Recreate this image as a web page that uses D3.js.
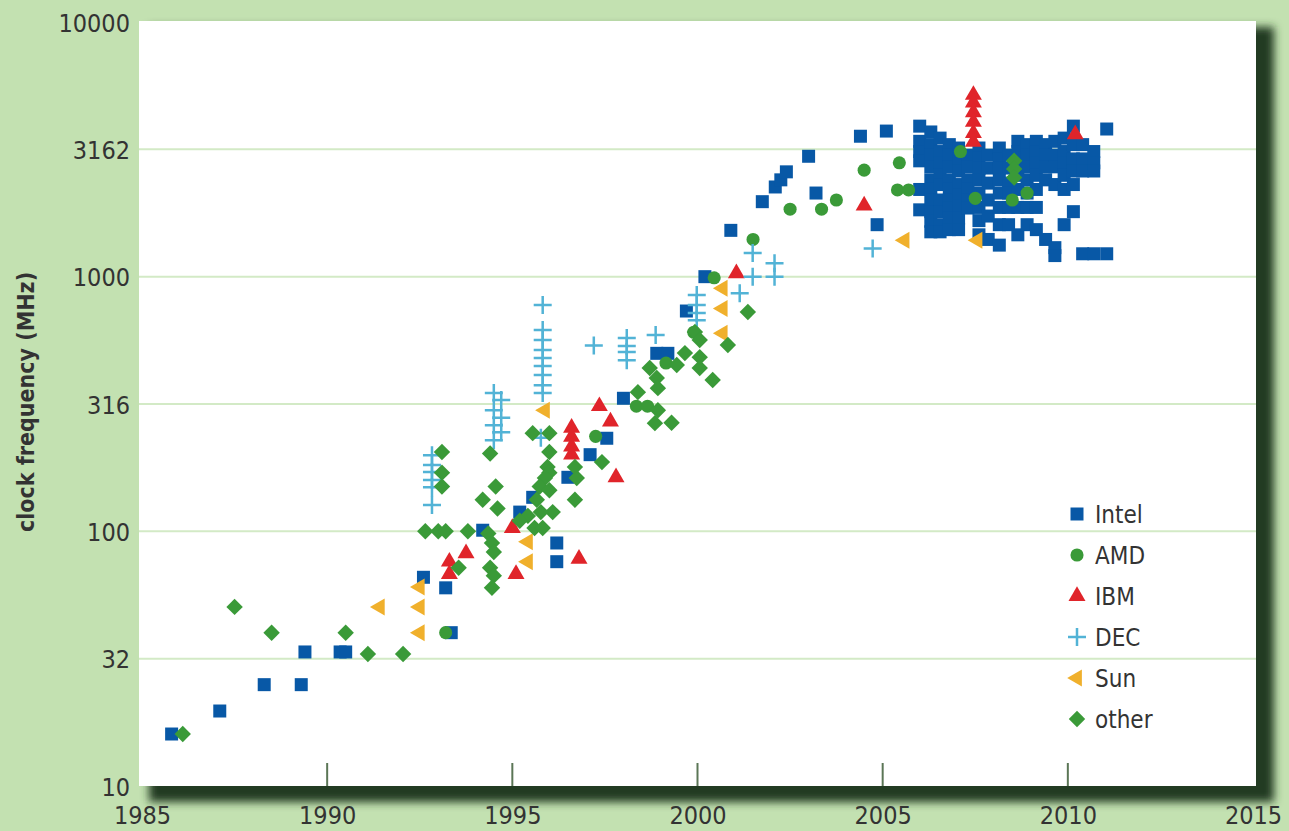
<!DOCTYPE html>
<html>
<head>
<meta charset="utf-8">
<script src="https://cdn.jsdelivr.net/npm/d3@7"></script>
<style>
  html, body { margin: 0; padding: 0; background: #c3e1b1; }
  svg { display: block; }
  text { font-family: "DejaVu Sans Condensed", "DejaVu Sans", sans-serif; fill: #333; }
</style>
</head>
<body>
<div id="chart"></div>
<script>
const width = 1289;
const height = 831;

// [year, MHz]
const intel = [
  [1985.8, 16], [1987.1, 19.7], [1988.3, 25], [1989.3, 25], [1989.4, 33.6], [1990.35, 33.6], [1990.5, 33.6],
  [1992.6, 66], [1993.2, 60], [1993.35, 40], [1994.2, 101], [1995.2, 119], [1995.55, 136], [1996.2, 90],
  [1996.2, 76], [1996.5, 163], [1997.1, 200], [1997.55, 232], [1998.0, 333], [1998.9, 500], [1999.2, 500],
  [1999.7, 733], [2000.2, 1000], [2000.9, 1520], [2001.75, 1970], [2002.1, 2250], [2002.25, 2400],
  [2002.4, 2580], [2003.0, 2970], [2003.2, 2130], [2004.4, 3560], [2004.85, 1600], [2005.1, 3730],
  [2006.0, 3900], [2006.0, 3400], [2006.0, 3100], [2006.0, 2850], [2006.0, 2200], [2006.0, 1830],
  [2006.3, 3700], [2006.3, 3300], [2006.3, 3000], [2006.3, 2700], [2006.3, 2400], [2006.3, 2200],
  [2006.3, 2000], [2006.3, 1800], [2006.3, 1650], [2006.3, 1500],
  [2006.55, 3500], [2006.55, 3100], [2006.55, 2800], [2006.55, 2500], [2006.55, 2300], [2006.55, 2000],
  [2006.55, 1800], [2006.55, 1600], [2006.55, 1500],
  [2006.8, 3300], [2006.8, 3000], [2006.8, 2700], [2006.8, 2400], [2006.8, 2200], [2006.8, 2000],
  [2006.8, 1860], [2006.8, 1700], [2006.8, 1530],
  [2007.05, 3200], [2007.05, 2900], [2007.05, 2600], [2007.05, 2300], [2007.05, 2100], [2007.05, 1900],
  [2007.05, 1700], [2007.05, 1530],
  [2007.3, 3000], [2007.3, 2700], [2007.3, 2400], [2007.3, 2200], [2007.3, 2000], [2007.3, 1860],
  [2007.6, 3200], [2007.6, 2930], [2007.6, 2660], [2007.6, 2400], [2007.6, 2130], [2007.6, 1870],
  [2007.6, 1660], [2007.6, 1460],
  [2007.85, 3000], [2007.85, 2670], [2007.85, 2330], [2007.85, 2000], [2007.85, 1730], [2007.85, 1400],
  [2008.15, 3200], [2008.15, 2900], [2008.15, 2670], [2008.15, 2400], [2008.15, 2130], [2008.15, 1870],
  [2008.15, 1600], [2008.15, 1330],
  [2008.4, 3000], [2008.4, 2670], [2008.4, 2330], [2008.4, 2130], [2008.4, 1870], [2008.4, 1600],
  [2008.65, 3400], [2008.65, 3100], [2008.65, 2800], [2008.65, 2500], [2008.65, 2200], [2008.65, 1870],
  [2008.65, 1460],
  [2008.9, 3300], [2008.9, 3000], [2008.9, 2700], [2008.9, 2400], [2008.9, 2130], [2008.9, 1870],
  [2008.9, 1600],
  [2009.15, 3400], [2009.15, 3100], [2009.15, 2800], [2009.15, 2500], [2009.15, 2200], [2009.15, 1870],
  [2009.15, 1530],
  [2009.4, 3300], [2009.4, 3000], [2009.4, 2700], [2009.4, 2400], [2009.4, 1400],
  [2009.65, 3400], [2009.65, 3000], [2009.65, 2700], [2009.65, 2300], [2009.65, 1300], [2009.65, 1210],
  [2009.9, 3500], [2009.9, 3100], [2009.9, 2800], [2009.9, 2500], [2009.9, 2200], [2009.9, 1600],
  [2010.15, 3900], [2010.15, 3300], [2010.15, 2900], [2010.15, 2600], [2010.15, 2300], [2010.15, 1800],
  [2010.4, 3300], [2010.4, 2900], [2010.4, 2600], [2010.4, 1230],
  [2010.7, 3100], [2010.7, 2800], [2010.7, 2600], [2010.7, 1230],
  [2011.05, 3800], [2011.05, 1230],
];

const amd = [
  [1993.2, 40], [1997.25, 236], [1998.35, 310], [1998.65, 310], [1999.15, 458], [1999.9, 605],
  [2000.45, 990], [2001.5, 1400], [2002.5, 1840], [2003.35, 1840], [2003.75, 2000], [2004.5, 2620],
  [2005.4, 2190], [2005.7, 2190], [2005.45, 2800], [2007.1, 3100], [2007.5, 2030], [2008.5, 2000],
  [2008.9, 2130],
];

const ibm = [
  [1993.3, 76], [1993.3, 68], [1993.75, 82], [1995.0, 103], [1995.1, 68], [1996.8, 78],
  [1996.6, 255], [1996.6, 235], [1996.6, 215], [1996.6, 200], [1997.35, 310], [1997.65, 270],
  [1997.8, 163], [2001.05, 1030], [2004.5, 1900], [2007.45, 5170], [2007.45, 4830], [2007.45, 4420],
  [2007.45, 4050], [2007.45, 3660], [2007.45, 3380], [2010.2, 3620],
];

const dec = [
  [1992.83, 199], [1992.83, 182], [1992.83, 171], [1992.83, 159], [1992.83, 149], [1992.83, 127],
  [1994.5, 349], [1994.7, 328], [1994.5, 299], [1994.7, 279], [1994.5, 261], [1994.7, 245], [1994.5, 228],
  [1995.82, 774], [1995.82, 617], [1995.82, 564], [1995.82, 515], [1995.82, 479], [1995.82, 446],
  [1995.82, 411], [1995.82, 375], [1995.82, 349], [1995.77, 233],
  [1997.2, 537], [1998.09, 574], [1998.09, 534], [1998.09, 506], [1998.09, 470], [1998.87, 590],
  [1999.98, 847], [1999.98, 774], [1999.98, 720], [1999.98, 675], [2001.14, 860], [2001.49, 1240],
  [2001.49, 1000], [2002.08, 1130], [2002.08, 1000], [2004.73, 1290],
];

const sun = [
  [1991.42, 50.5], [1992.5, 60.5], [1992.5, 50.5], [1992.5, 40], [1995.42, 91], [1995.42, 76],
  [1995.88, 299], [2000.68, 900], [2000.68, 750], [2000.68, 600], [2005.59, 1390], [2007.56, 1390],
];

const other = [
  [1986.1, 16], [1987.5, 50.5], [1988.5, 40], [1990.5, 40], [1991.1, 33], [1992.05, 33],
  [1992.65, 100], [1993.0, 100], [1993.2, 100], [1993.8, 100],
  [1993.1, 205], [1993.1, 170], [1993.1, 150], [1993.55, 72],
  [1994.4, 202], [1994.55, 150], [1994.2, 133], [1994.6, 123], [1994.35, 98], [1994.45, 90],
  [1994.5, 83], [1994.4, 72], [1994.5, 67], [1994.45, 60],
  [1995.55, 243], [1996.0, 243], [1996.0, 205], [1995.95, 179], [1996.0, 170], [1995.88, 162],
  [1995.74, 150], [1995.66, 133], [1996.0, 145], [1996.09, 119], [1995.77, 119], [1995.42, 115],
  [1995.2, 110], [1995.6, 103], [1995.82, 103], [1996.69, 179], [1996.74, 162], [1996.69, 133],
  [1997.42, 187],
  [1998.39, 352], [1998.71, 438], [1998.9, 400], [1998.93, 365], [1998.93, 299], [1998.85, 266],
  [1999.3, 267], [1999.44, 450], [1999.66, 501], [2000.06, 483], [2000.06, 438], [1999.93, 606],
  [2000.06, 564], [2000.41, 393], [2000.82, 539], [2001.36, 726],
  [2008.55, 2850], [2008.55, 2650], [2008.55, 2450],
];

const yTickValues = [10, 31.62, 100, 316.2, 1000, 3162, 10000];
const yTickLabels = ["10", "32", "100", "316", "1000", "3162", "10000"];
const xTickValues = [1985, 1990, 1995, 2000, 2005, 2010, 2015];
const yearTitle = "clock frequency (MHz)";

const series = [
  { name: "Intel", data: intel, color: "#0858a6", shape: "square" },
  { name: "AMD", data: amd, color: "#3a9a38", shape: "circle" },
  { name: "IBM", data: ibm, color: "#e0242a", shape: "triangle" },
  { name: "DEC", data: dec, color: "#52b3d6", shape: "plus" },
  { name: "Sun", data: sun, color: "#f0b02c", shape: "left" },
  { name: "other", data: other, color: "#3a9a38", shape: "diamond" },
];

const plot = { left: 139, right: 1256, top: 21, bottom: 786 };

const xScale = d3.scaleLinear().domain([1985, 2015]).range([142, 1253]);
const yScale = d3.scaleLog().domain([10, 10000]).range([786, 22]);

const svg = d3
  .select("#chart")
  .append("svg")
  .attr("width", width)
  .attr("height", height);

const defs = svg.append("defs");
const shadow = defs
  .append("filter")
  .attr("id", "shadow")
  .attr("x", "-5%")
  .attr("y", "-5%")
  .attr("width", "115%")
  .attr("height", "115%");
shadow.append("feGaussianBlur").attr("stdDeviation", 4);

// drop shadow of the plot panel
svg
  .append("rect")
  .attr("x", plot.left + 10)
  .attr("y", plot.top + 6)
  .attr("width", plot.right - plot.left + 8)
  .attr("height", plot.bottom - plot.top + 10)
  .attr("fill", "#243a20")
  .attr("filter", "url(#shadow)");

svg
  .append("rect")
  .attr("x", plot.left)
  .attr("y", plot.top)
  .attr("width", plot.right - plot.left)
  .attr("height", plot.bottom - plot.top)
  .attr("fill", "#fff");

// horizontal grid
svg
  .append("g")
  .selectAll("line")
  .data(yTickValues.slice(1, -1))
  .join("line")
  .attr("x1", plot.left)
  .attr("x2", plot.right)
  .attr("y1", (d) => yScale(d))
  .attr("y2", (d) => yScale(d))
  .attr("stroke", "#d3eac6")
  .attr("stroke-width", 2);

// inner x tick marks
svg
  .append("g")
  .selectAll("line")
  .data(xTickValues.slice(1, -1))
  .join("line")
  .attr("x1", (d) => xScale(d))
  .attr("x2", (d) => xScale(d))
  .attr("y1", plot.bottom)
  .attr("y2", plot.bottom - 23)
  .attr("stroke", "#5b7656")
  .attr("stroke-width", 2);

const yAxis = d3
  .axisLeft(yScale)
  .tickValues(yTickValues)
  .tickFormat((d, i) => yTickLabels[i])
  .tickSize(0)
  .tickPadding(0);

svg
  .append("g")
  .attr("transform", `translate(130, 0)`)
  .call(yAxis)
  .call((g) => {
    g.select(".domain").remove();
    g.selectAll("text")
      .attr("font-family", null)
      .attr("font-size", 25)
      .attr("fill", "#2e2e2e")
      .attr("dy", "0.36em");
  });

const xAxis = d3
  .axisBottom(xScale)
  .tickValues(xTickValues)
  .tickFormat(d3.format("d"))
  .tickSize(0)
  .tickPadding(0);

svg
  .append("g")
  .attr("transform", `translate(0, 806)`)
  .call(xAxis)
  .call((g) => {
    g.select(".domain").remove();
    g.selectAll("text")
      .attr("font-family", null)
      .attr("font-size", 25)
      .attr("fill", "#2e2e2e")
      .attr("dy", "0.72em");
  });

svg
  .append("text")
  .attr("transform", "translate(34, 402) rotate(-90)")
  .attr("text-anchor", "middle")
  .attr("font-size", 23)
  .attr("font-weight", "bold")
  .text(yearTitle);

const shapePath = {
  square: d3.symbol(d3.symbolSquare, 169)(),
  circle: d3.symbol(d3.symbolCircle, 135)(),
  triangle: d3.symbol(d3.symbolTriangle, 125)(),
  left: d3.symbol(d3.symbolTriangle, 125)(),
  diamond: d3.symbol(d3.symbolSquare, 135)(),
  plus: "M-9,0H9M0,-9V9",
};
const shapeRotate = { left: -90, diamond: 45 };

const drawMarks = (g, s, pts) => {
  g.selectAll("path")
    .data(pts)
    .join("path")
    .attr("d", shapePath[s.shape])
    .attr(
      "transform",
      (d) => `translate(${xScale(d[0])},${yScale(d[1])}) rotate(${shapeRotate[s.shape] || 0})`
    )
    .attr("fill", s.shape === "plus" ? "none" : s.color)
    .attr("stroke", s.shape === "plus" ? s.color : "none")
    .attr("stroke-width", 2.5);
};

series.forEach((s) => {
  drawMarks(svg.append("g").attr("class", `series-${s.name}`), s, s.data);
});

// legend
const legend = svg
  .append("g")
  .attr("transform", "translate(1077, 514)")
  .selectAll("g")
  .data(series)
  .join("g")
  .attr("transform", (d, i) => `translate(0, ${i * 41})`);

legend.each(function (s) {
  const g = d3.select(this);
  g.append("path")
    .attr("d", shapePath[s.shape])
    .attr("transform", `rotate(${shapeRotate[s.shape] || 0})`)
    .attr("fill", s.shape === "plus" ? "none" : s.color)
    .attr("stroke", s.shape === "plus" ? s.color : "none")
    .attr("stroke-width", 2.5);
  g.append("text")
    .attr("x", 18)
    .attr("dy", "0.36em")
    .attr("font-size", 24)
    .text(s.name);
});
</script>
</body>
</html>
